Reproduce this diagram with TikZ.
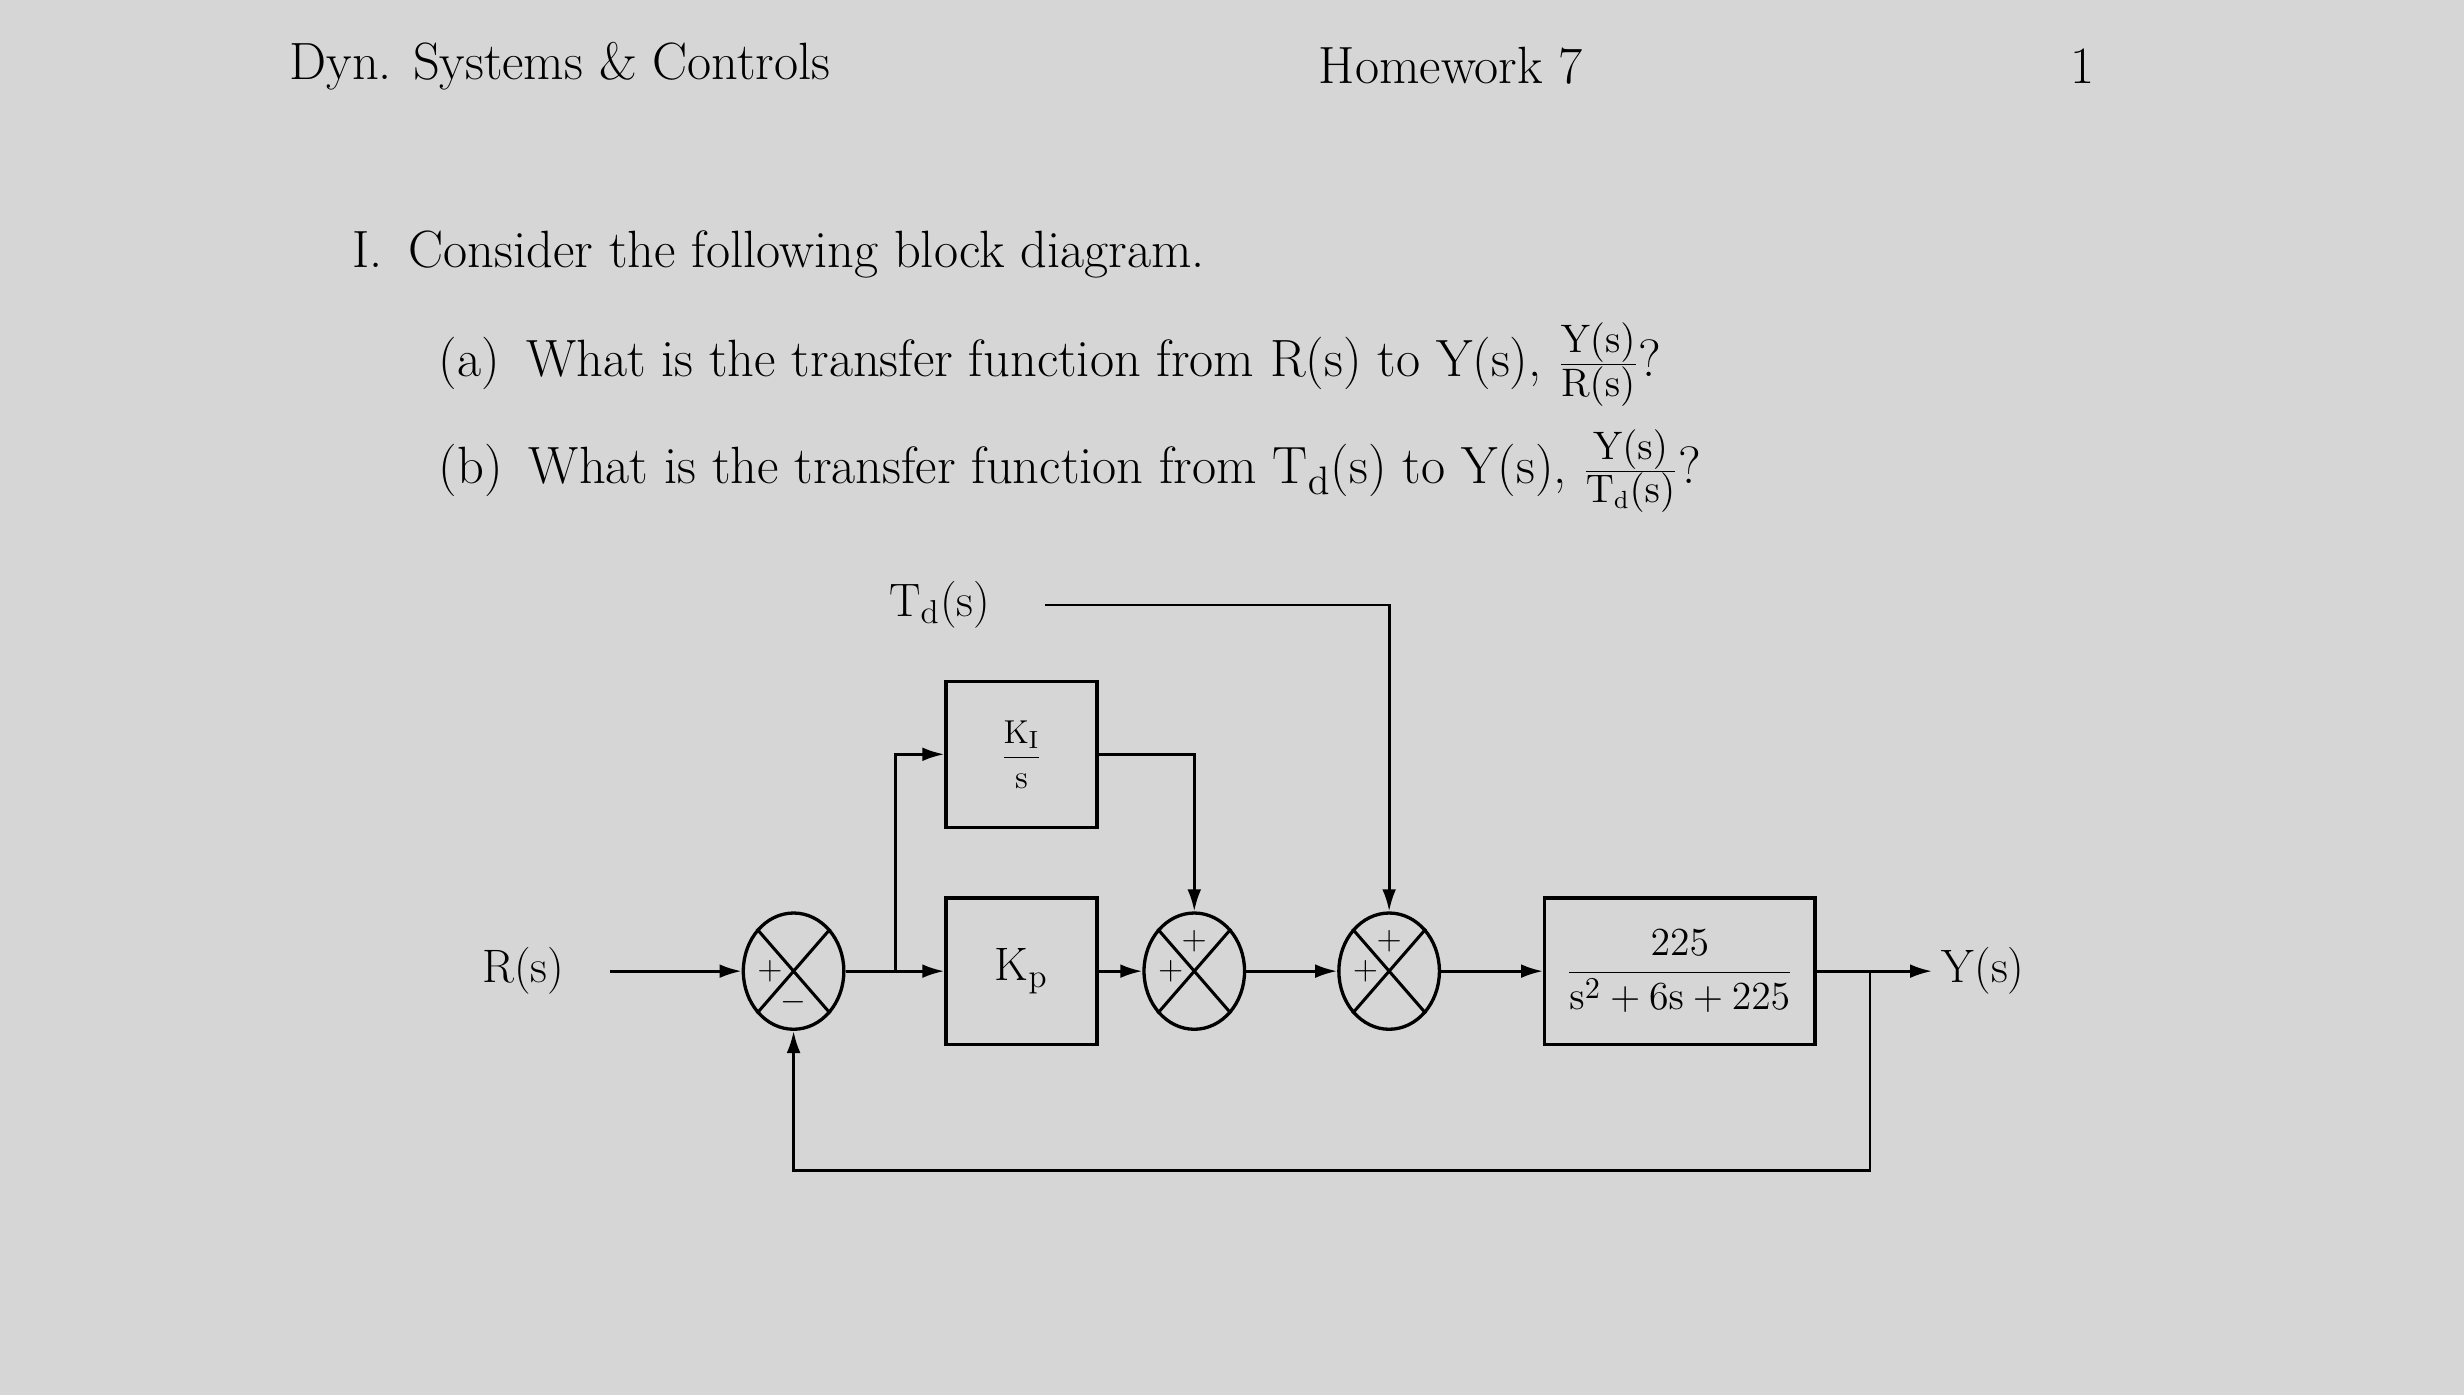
\documentclass[tikz,border=0pt]{standalone}
\usetikzlibrary{arrows.meta,shapes.geometric}
\begin{document}
\begin{tikzpicture}[x=0.02cm,y=-0.02cm,
  blk/.style={draw,line width=1.2pt,minimum width=1.92cm,minimum height=1.86cm,inner sep=0pt},
  sumj/.style={draw,ellipse,line width=1.2pt,minimum width=1.28cm,minimum height=1.48cm,inner sep=0pt},
  wire/.style={line width=1pt},
  arr/.style={wire,-{Latex[length=8pt,width=5pt]}},
  big/.style={font=\fontsize{19}{22}\selectfont},
  lab/.style={font=\fontsize{17}{20}\selectfont}]
\fill[gray!32] (0,0) rectangle (1568,888);
\useasboundingbox (0,0) rectangle (1568,888);
% header and text
\node[big,anchor=west] (h1) at (178,42) {Dyn. Systems \& Controls};
\node[big,anchor=west] (h2) at (833,42) {Homework 7};
\node[big] (h3) at (1325,42) {1};
\node[big,anchor=west] (q) at (218,162) {I.\enspace Consider the following block diagram.};
\node[big,anchor=west] (qa) at (273,232) {(a)\enspace What is the transfer function from R(s) to Y(s), $\frac{\mathrm{Y(s)}}{\mathrm{R(s)}}$?};
\node[big,anchor=west] (qb) at (273,300) {(b)\enspace What is the transfer function from T$_\mathrm{d}$(s) to Y(s), $\frac{\mathrm{Y(s)}}{\mathrm{T_d(s)}}$?};
% blocks
\node[blk] (ki) at (650,480) {\fontsize{13}{15}\selectfont$\displaystyle\frac{\mathrm{K_I}}{\mathrm{s}}$};
\node[blk,lab] (kp) at (650,618) {K$_\mathrm{p}$};
\node[draw,line width=1.2pt,minimum width=3.44cm,minimum height=1.86cm,inner sep=0pt,font=\fontsize{15}{17}\selectfont] (g) at (1069,618) {$\displaystyle\frac{225}{\mathrm{s}^2+6\mathrm{s}+225}$};
\node[sumj] (s1) at (505,618) {};
\node[sumj] (s2) at (760,618) {};
\node[sumj] (s3) at (884,618) {};
\foreach \s in {s1,s2,s3}{
  \draw[line width=1.1pt] (\s.north west) -- (\s.south east) (\s.north east) -- (\s.south west);
  \node[font=\fontsize{13}{14}\selectfont] at ([xshift=-0.3cm]\s.center) {$+$};
}
\node[font=\fontsize{13}{14}\selectfont] at ([yshift=-0.4cm]s1.center) {$-$};
\node[font=\fontsize{13}{14}\selectfont] at ([yshift=0.38cm]s2.center) {$+$};
\node[font=\fontsize{13}{14}\selectfont] at ([yshift=0.38cm]s3.center) {$+$};
% labels
\node[lab] (r) at (333,618) {R(s)};
\node[lab] (y) at (1262,618) {Y(s)};
\node[lab] (td) at (598,385) {T$_\mathrm{d}$(s)};
% wires
\coordinate (rs) at (388,618);
\draw[arr] (rs) -- (s1.west);
\draw[arr] (s1.east) -- (kp.west);
\coordinate (b1) at (570,618);
\draw[arr] (b1) |- (ki.west);
\draw[arr] (ki.east) -| (s2.north);
\draw[arr] (kp.east) -- (s2.west);
\draw[arr] (s2.east) -- (s3.west);
\coordinate (tdr) at (665,385);
\draw[arr] (tdr) -| (s3.north);
\draw[arr] (s3.east) -- (g.west);
\draw[arr] (g.east) -- (y.west);
\coordinate (b2) at (1190,618);
\coordinate (fb) at (1190,745);
\draw[arr] (b2) -- (fb) -| (s1.south);
\end{tikzpicture}
\end{document}
